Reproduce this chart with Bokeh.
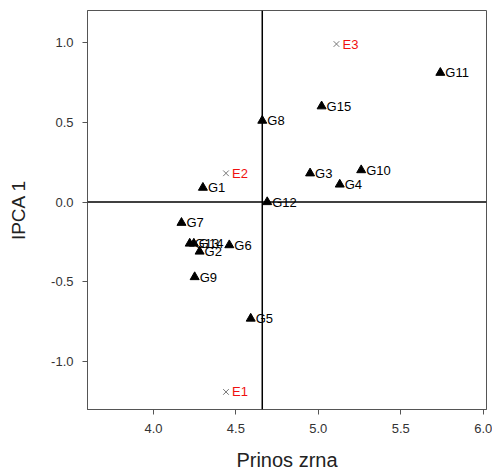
from bokeh.plotting import figure
from bokeh.models import ColumnDataSource, Span, FixedTicker, NumeralTickFormatter, Range1d
from bokeh.embed import file_html
from bokeh.resources import INLINE

# Genotypes
g_names = ["G1", "G2", "G3", "G4", "G5", "G6", "G7", "G8", "G9", "G10",
           "G11", "G12", "G13", "G14", "G15"]
g_yield = [4.30, 4.28, 4.95, 5.13, 4.59, 4.46, 4.17, 4.66, 4.25, 5.26,
           5.74, 4.69, 4.22, 4.245, 5.02]
g_ipca1 = [0.09, -0.31, 0.18, 0.11, -0.73, -0.27, -0.13, 0.51, -0.47, 0.20,
           0.81, 0.00, -0.26, -0.26, 0.60]

# Environments
e_names = ["E1", "E2", "E3"]
e_yield = [4.44, 4.44, 5.11]
e_ipca1 = [-1.19, 0.18, 0.99]

grand_mean = 4.66
x_ticks = [4.0, 4.5, 5.0, 5.5, 6.0]
y_ticks = [-1.0, -0.5, 0.0, 0.5, 1.0]

FONT = "Liberation Sans"

p = figure(frame_width=399, frame_height=399, output_backend="svg", toolbar_location=None,
           x_range=Range1d(3.6, 6.02), y_range=Range1d(-1.3, 1.2),
           min_border_left=87, min_border_right=6, min_border_top=10, min_border_bottom=65)
p.grid.visible = False
p.outline_line_color = "#555555"
p.outline_line_width = 1
p.background_fill_color = "white"
p.border_fill_color = "white"

for ax in (p.xaxis[0], p.yaxis[0]):
    ax.axis_line_color = "#555555"
    ax.major_tick_line_color = "#555555"
    ax.minor_tick_line_color = None
    ax.major_tick_out = 5
    ax.major_tick_in = 0
    ax.major_label_text_font = FONT
    ax.major_label_text_font_size = "13px"
    ax.major_label_text_color = "#333333"
    ax.axis_label_text_font = FONT
    ax.axis_label_text_font_style = "normal"
    ax.axis_label_text_color = "#222222"
    ax.formatter = NumeralTickFormatter(format="0.0")

p.xaxis.axis_label_text_font_size = "20px"
p.yaxis.axis_label_text_font_size = "19px"
p.xaxis.ticker = FixedTicker(ticks=x_ticks)
p.yaxis.ticker = FixedTicker(ticks=y_ticks)
p.xaxis.axis_label = "Prinos zrna"
p.yaxis.axis_label = "IPCA 1"
p.xaxis.major_label_standoff = 9
p.yaxis.major_label_standoff = 9
p.xaxis.axis_label_standoff = 13
p.yaxis.axis_label_standoff = 19

p.add_layout(Span(location=grand_mean, dimension="height", line_color="black", line_width=1.5))
p.add_layout(Span(location=0.0, dimension="width", line_color="black", line_width=1.5))

gsrc = ColumnDataSource(dict(x=g_yield, y=g_ipca1, name=g_names))
esrc = ColumnDataSource(dict(x=e_yield, y=e_ipca1, name=e_names))

p.scatter("x", "y", source=gsrc, marker="triangle", size=9, fill_color="black", line_color="black")
p.text("x", "y", text="name", source=gsrc, x_offset=5, y_offset=0,
       text_font_size="13px", text_baseline="middle", text_align="left",
       text_color="black", text_font={"value": FONT})

p.scatter("x", "y", source=esrc, marker="x", size=8, line_color="#777777", line_width=1)
p.text("x", "y", text="name", source=esrc, x_offset=6, y_offset=0,
       text_font_size="13px", text_baseline="middle", text_align="left",
       text_color="#f01010", text_font={"value": FONT})

open("out.html", "w").write(file_html(p, INLINE))
